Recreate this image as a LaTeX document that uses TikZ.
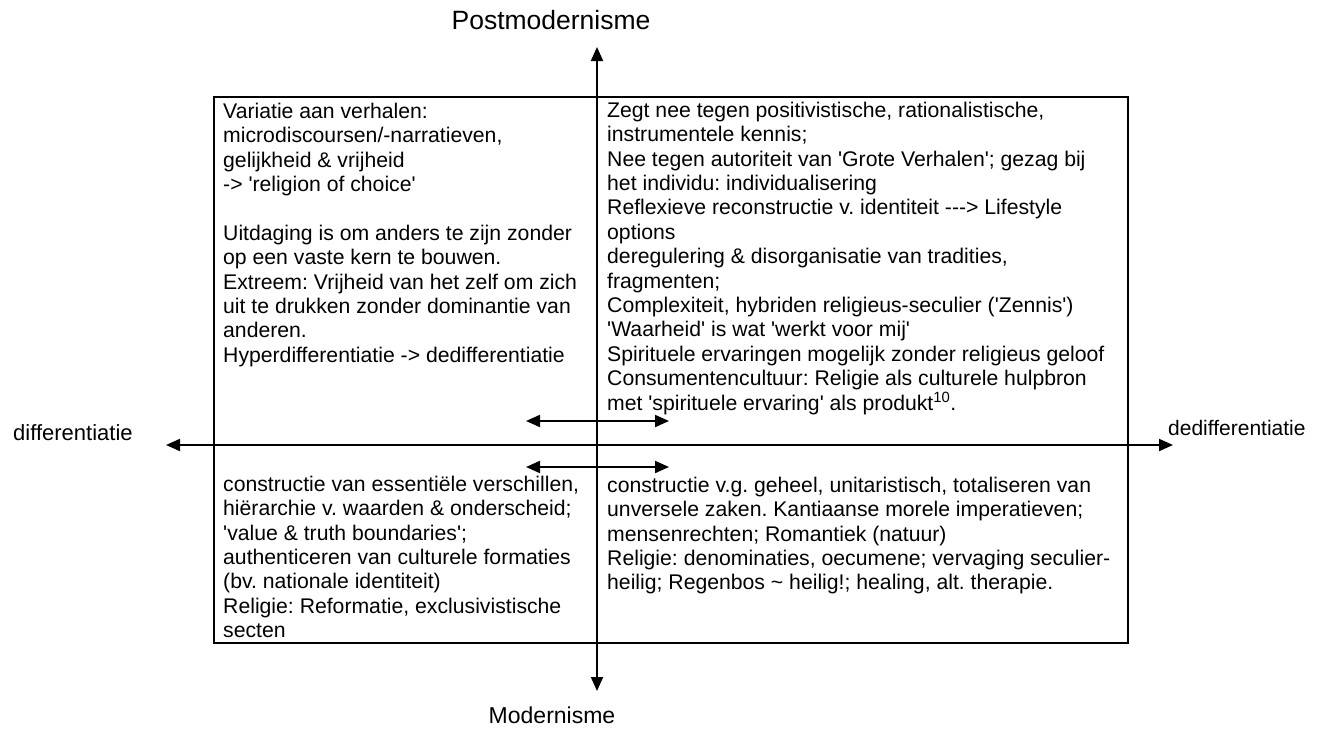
\documentclass[tikz,border=0pt]{standalone}
\usepackage{fontspec}
\setmainfont{Liberation Sans}[Ligatures=TeXOff]
\usetikzlibrary{arrows.meta}
\newcommand{\qq}{\textquotesingle}
\frenchspacing
\tikzset{
  axis/.style={line width=2pt,-{Triangle[length=14pt,width=12pt]}},
  dbl/.style={line width=2pt,{Triangle[length=14pt,width=12pt]}-{Triangle[length=14pt,width=12pt]}},
  frame/.style={line width=2pt},
  body/.style={anchor=north west,inner sep=0pt,align=left,font=\fontsize{21.2}{24.4}\selectfont\frenchspacing},
  axlabel/.style={anchor=base,inner sep=0pt},
}
\begin{document}
\begin{tikzpicture}[x=1pt,y=-1pt]
\useasboundingbox (0,0) rectangle (1318,729);
% frame
\node[frame,draw,minimum width=914pt,minimum height=546pt,anchor=north west,inner sep=0pt] (box) at (213,96) {};
% axis coordinates
\coordinate (ctr) at (597,445);
\coordinate (top) at (597,96);
\coordinate (topTip) at (597,47);
\coordinate (botTip) at (597,691);
\coordinate (leftTip) at (166,445);
\coordinate (rightTip) at (1173,445);
\draw[axis] (top) -- (topTip);
\draw[axis] (top) -- (botTip);
\draw[axis] (ctr) -- (leftTip);
\draw[axis] (ctr) -- (rightTip);
% double arrows
\coordinate (u1) at (526,421);
\coordinate (u2) at (669,421);
\coordinate (l1) at (526,467);
\coordinate (l2) at (669,467);
\draw[dbl] (u1) -- (u2);
\draw[dbl] (l1) -- (l2);
% axis labels
\node[axlabel,font=\fontsize{26.5}{30}\selectfont] (post) at (551,29) {Postmodernisme};
\node[axlabel,font=\fontsize{23}{27}\selectfont] (mod) at (552,723) {Modernisme};
\node[axlabel,font=\fontsize{22}{26}\selectfont,anchor=base west] (diff) at (13,440) {differentiatie};
\node[axlabel,font=\fontsize{21}{25}\selectfont,anchor=base west] (dediff) at (1168,435) {dedifferentiatie};
% quadrant texts
\node[body] (tl) at (223,118-17.08) {\strut Variatie aan verhalen:\\
microdiscoursen/-narratieven,\\
gelijkheid \& vrijheid\\
-> \qq religion of choice\qq\\[24.4pt]
Uitdaging is om anders te zijn zonder\\
op een vaste kern te bouwen.\\
Extreem: Vrijheid van het zelf om zich\\
uit te drukken zonder dominantie van\\
anderen.\\
Hyperdifferentiatie -> dedifferentiatie};
\node[body] (tr) at (607,117-17.08) {\strut Zegt nee tegen positivistische, rationalistische,\\
instrumentele kennis;\\
Nee tegen autoriteit van \qq Grote Verhalen\qq; gezag bij\\
het individu: individualisering\\
Reflexieve reconstructie v. identiteit ---> Lifestyle\\
options\\
deregulering \& disorganisatie van tradities,\\
fragmenten;\\
Complexiteit, hybriden religieus-seculier (\qq Zennis\qq)\\
\qq Waarheid\qq\ is wat \qq werkt voor mij\qq\\
Spirituele ervaringen mogelijk zonder religieus geloof\\
Consumentencultuur: Religie als culturele hulpbron\\
met \qq spirituele ervaring\qq\ als produkt\textsuperscript{10}.};
\node[body] (bl) at (223,491-17.08) {\strut constructie van essentiële verschillen,\\
hiërarchie v. waarden \& onderscheid;\\
\qq value \& truth boundaries\qq;\\
authenticeren van culturele formaties\\
(bv. nationale identiteit)\\
Religie: Reformatie, exclusivistische\\
secten};
\node[body] (br) at (607,492-17.08) {\strut constructie v.g. geheel, unitaristisch, totaliseren van\\
unversele zaken. Kantiaanse morele imperatieven;\\
mensenrechten; Romantiek (natuur)\\
Religie: denominaties, oecumene; vervaging seculier-\\
heilig; Regenbos \textasciitilde\ heilig!; healing, alt. therapie.};
\end{tikzpicture}
\end{document}
